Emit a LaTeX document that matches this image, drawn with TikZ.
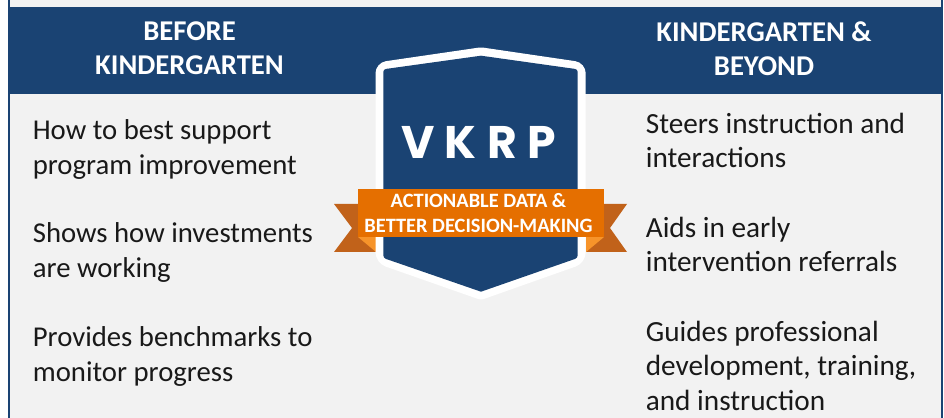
\documentclass[tikz,border=0pt]{standalone}
\usepackage{fontspec}
\setmainfont{Carlito}
\newfontfamily\badgefont{Poppins}
\definecolor{navy}{HTML}{1A4373}
\definecolor{panel}{HTML}{F2F2F2}
\definecolor{ribbon}{HTML}{E56F00}
\definecolor{tail}{HTML}{C1621A}
\definecolor{foldc}{HTML}{F7942A}
\tikzset{
  x=0.02cm,y=-0.02cm,
  bodytext/.style={anchor=north west,inner sep=0pt,align=left,text=black!90,font=\fontsize{16.35}{19.6}\selectfont},
  bodytextr/.style={bodytext,font=\fontsize{16.65}{19.7}\selectfont},
  headtext/.style={anchor=center,inner sep=0pt,align=center,text=white,font=\fontsize{16.3}{19.5}\selectfont\bfseries},
  ribbontext/.style={anchor=center,inner sep=0pt,align=center,text=white,font=\fontsize{11.6}{14.2}\selectfont\bfseries},
}
\begin{document}
\begin{tikzpicture}
\useasboundingbox (0,0) rectangle (944,418);
\fill[white] (0,0) rectangle (944,418);
\fill[panel] (8,0) rectangle (942,418);
\fill[navy] (8,7) rectangle (942,94);
\fill[navy] (7.5,0) rectangle (10,418);
\fill[navy] (941,0) rectangle (943,418);
% tails
\fill[tail] (334,204) -- (358,204) -- (376,252) -- (334,252) -- (352,228) -- cycle;
\fill[tail] (627,204) -- (604,204) -- (586,252) -- (627,252) -- (610,228) -- cycle;
\fill[foldc] (358,237) -- (376,237) -- (376,252) -- cycle;
\fill[foldc] (604,237) -- (586,237) -- (586,252) -- cycle;
% shield
\fill[white] (375.5,150) [rounded corners=6pt] -- (375.5,62.7) [rounded corners=1.5pt] -- (481,47.3) [rounded corners=6pt] -- (585.7,62.7) -- (585.7,263) [rounded corners=1.5pt] -- (481,300) [rounded corners=6pt] -- (375.5,263) [sharp corners] -- cycle;
\fill[navy] (383.3,150) [rounded corners=1.5pt] -- (383.3,69.3) [sharp corners] -- (481,55.7) [rounded corners=1.5pt] -- (577.7,69.3) -- (577.7,258) [sharp corners] -- (481,291.7) [rounded corners=1.5pt] -- (383.3,258) [sharp corners] -- cycle;
\fill[ribbon] (357.7,189) rectangle (604,237);
% text
\node[headtext] (hl) at (189.5,48.5) {BEFORE\\KINDERGARTEN};
\node[headtext] (hr) at (764,48.5) {KINDERGARTEN \&\\BEYOND};
\node[inner sep=0pt,text=white,font=\fontsize{26}{30}\selectfont\badgefont\bfseries] (vkrp) at (478.5,142.5) {V\kern 5.9pt K\kern 5.9pt R\kern 5.9pt P};
\node[ribbontext] (rb) at (478.5,213) {ACTIONABLE DATA \&\\BETTER DECISION-MAKING};
\node[bodytext] (a1) at (32.5,119.5) {How to best support\\program improvement};
\node[bodytext] (a2) at (32.5,222.5) {Shows how investments\\are working};
\node[bodytext] (a3) at (32.5,326.5) {Provides benchmarks to\\monitor progress};
\node[bodytextr] (b1) at (645.5,112.5) {Steers instruction and\\interactions};
\node[bodytextr] (b2) at (645.5,216.5) {Aids in early\\intervention referrals};
\node[bodytextr] (b3) at (645.5,320.5) {Guides professional\\development, training,\\and instruction};
\end{tikzpicture}
\end{document}
